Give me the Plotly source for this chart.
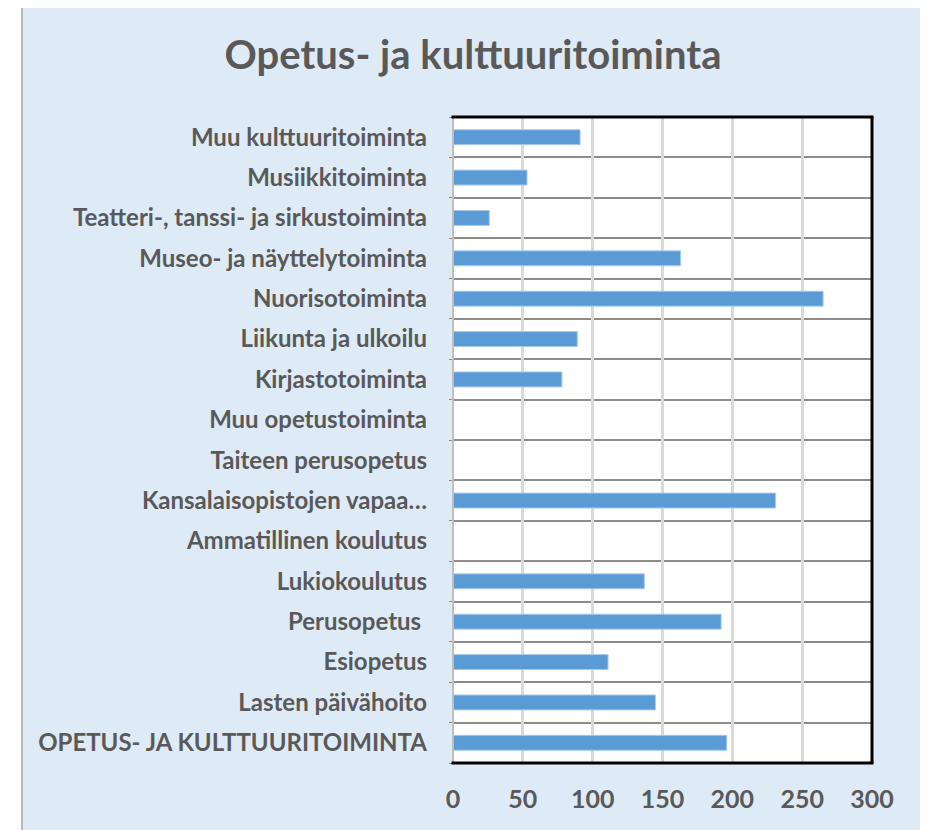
import plotly.graph_objects as go

categories = [
    "OPETUS- JA KULTTUURITOIMINTA",
    "Lasten päivähoito",
    "Esiopetus",
    "Perusopetus\u00a0",
    "Lukiokoulutus",
    "Ammatillinen koulutus",
    "Kansalaisopistojen vapaa…",
    "Taiteen perusopetus",
    "Muu opetustoiminta",
    "Kirjastotoiminta",
    "Liikunta ja ulkoilu",
    "Nuorisotoiminta",
    "Museo- ja näyttelytoiminta",
    "Teatteri-, tanssi- ja sirkustoiminta",
    "Musiikkitoiminta",
    "Muu kulttuuritoiminta",
]
values = [196, 145, 111, 192, 137, None, 231, None, None, 78, 89, 265, 163, 26, 53, 91]
x_ticks = [0, 50, 100, 150, 200, 250, 300]
title_text = "Opetus- ja kulttuuritoiminta"

OFF = 8  # page body margin
W, H = 928 - OFF, 830 - OFF
L, R, T, B = 453 - OFF, 872 - OFF, 117 - OFF, 763 - OFF
pw, ph = R - L, B - T

def px(p):
    return (p - OFF - L) / pw

def py(p):
    return (B - (p - OFF)) / ph

FONT = "Lato"
GRAY = "#595959"
BG = "#DEEAF6"

ypos = list(range(len(categories)))

fig = go.Figure(go.Bar(
    x=values, y=ypos, orientation="h", width=0.37,
    marker=dict(color="#5B9BD5", line=dict(color="#A9CBEB", width=1)),
    hoverinfo="x+y",
))

shapes = [
    dict(type="rect", xref="paper", yref="paper", x0=px(22), x1=px(925), y0=py(5), y1=py(845),
         fillcolor=BG, line=dict(color="#A6A6A6", width=1.5), layer="below"),
    dict(type="rect", xref="paper", yref="paper", x0=0, x1=1, y0=0, y1=1,
         fillcolor="white", line=dict(width=0), layer="below"),
    dict(type="line", xref="paper", yref="paper", x0=0, x1=0, y0=0, y1=1,
         line=dict(color="#BFBFBF", width=2), layer="above"),
    dict(type="line", xref="paper", yref="paper", x0=-1.5 / pw, x1=1 + 1.5 / pw, y0=1, y1=1,
         line=dict(color="black", width=3), layer="above"),
    dict(type="line", xref="paper", yref="paper", x0=1, x1=1, y0=0, y1=1,
         line=dict(color="black", width=3), layer="above"),
    dict(type="line", xref="paper", yref="paper", x0=-1.5 / pw, x1=1 + 1.5 / pw, y0=0, y1=0,
         line=dict(color="black", width=3), layer="above"),
]

fig.update_layout(
    width=W, height=H,
    margin=dict(l=L, r=W - R, t=T, b=H - B, autoexpand=False),
    paper_bgcolor="white",
    plot_bgcolor="white",
    showlegend=False,
    shapes=shapes,
    title=dict(text=title_text, x=(473 - OFF) / W, xanchor="center", xref="container",
               y=1 - (55 - OFF) / H, yanchor="middle", yref="container",
               font=dict(family=FONT, size=40, color=GRAY, weight="bold")),
    xaxis=dict(range=[0, 300], tickvals=x_ticks, showgrid=True, gridcolor="#D9D9D9", gridwidth=3,
               zeroline=False, showline=False, ticks="",
               ticklabelstandoff=19,
               tickfont=dict(family=FONT, size=25, color=GRAY, weight="bold")),
    yaxis=dict(range=[-0.5, len(categories) - 0.5], tickvals=ypos, ticktext=categories,
               showgrid=False, zeroline=False, showline=False, ticks="",
               ticklabelstandoff=25,
               tickfont=dict(family=FONT, size=24, color=GRAY, weight="bold"),
               minor=dict(tick0=0.5, dtick=1, showgrid=True, gridcolor="#8C8C8C", gridwidth=2,
                          ticks="outside", ticklen=3, tickcolor="#8C8C8C")),
)

fig.write_html("out.html")
